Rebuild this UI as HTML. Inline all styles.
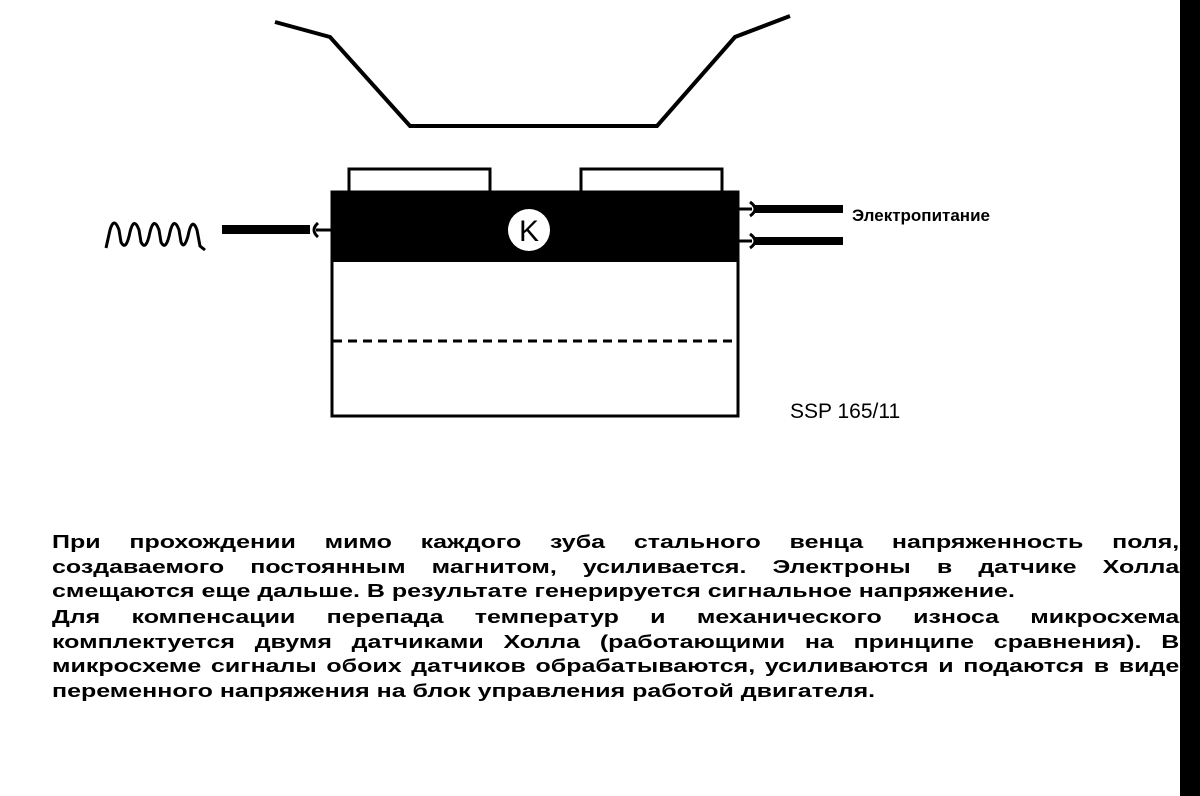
<!DOCTYPE html>
<html><head><meta charset="utf-8"><style>
html,body{margin:0;padding:0;background:#fff;}
body{width:1200px;height:796px;position:relative;overflow:hidden;font-family:"Liberation Sans",sans-serif;}
.p{position:absolute;left:52px;width:835px;transform:scaleX(1.35);transform-origin:0 0;font-weight:bold;font-size:18.5px;line-height:24.5px;color:#000;}
.l{display:block;text-align:justify;text-align-last:justify;white-space:nowrap;}
.l.last{text-align-last:left;}
</style></head><body>
<svg width="1200" height="796" style="position:absolute;left:0;top:0">
<polyline points="275,22 330,37 410,126 657,126 735,37 790,16" fill="none" stroke="#000" stroke-width="4"/>
<rect x="349" y="169" width="141" height="24" fill="#fff" stroke="#000" stroke-width="3"/>
<rect x="581" y="169" width="141" height="24" fill="#fff" stroke="#000" stroke-width="3"/>
<rect x="332" y="192" width="406" height="224" fill="#fff" stroke="#000" stroke-width="3"/>
<rect x="331" y="192" width="408" height="70" fill="#000"/>
<line x1="333" y1="341" x2="737" y2="341" stroke="#000" stroke-width="3" stroke-dasharray="9,6"/>
<circle cx="529" cy="230" r="21" fill="#fff"/>
<text x="529" y="241" font-family="Liberation Sans" font-size="30" text-anchor="middle" fill="#000">K</text>
<path d="M106,248 L110,230 Q114,216 119,230 L121,242 Q126,252 130,232 Q134,216 139,230 L141,242 Q146,252 150,232 Q154,216 159,230 L161,242 Q166,252 170,232 Q174,216 179,230 L181,242 Q184,250 188,236 Q192,216 197,230 L200,246 L205,250" fill="none" stroke="#000" stroke-width="3"/>
<rect x="222" y="225" width="88" height="9" fill="#000"/>
<path d="M318,223 Q310,230 318,237" fill="none" stroke="#000" stroke-width="3"/>
<line x1="316" y1="230" x2="332" y2="230" stroke="#000" stroke-width="3"/>
<line x1="738" y1="209" x2="752" y2="209" stroke="#000" stroke-width="3"/>
<path d="M750,202 Q760,209 750,216" fill="none" stroke="#000" stroke-width="3"/>
<rect x="755" y="205" width="88" height="8" fill="#000"/>
<line x1="738" y1="241" x2="752" y2="241" stroke="#000" stroke-width="3"/>
<path d="M750,234 Q760,241 750,248" fill="none" stroke="#000" stroke-width="3"/>
<rect x="755" y="237" width="88" height="8" fill="#000"/>
<text x="852" y="221" font-family="Liberation Sans" font-weight="bold" font-size="17" fill="#000">Электропитание</text>
<text x="790" y="418" font-family="Liberation Sans" font-size="21" fill="#000">SSP 165/11</text>
<rect x="1180" y="0" width="20" height="796" fill="#000"/>
</svg>
<div class="p" style="top:530px">
<span class="l">При прохождении мимо каждого зуба стального венца напряженность поля,</span>
<span class="l">создаваемого постоянным магнитом, усиливается. Электроны в датчике Холла</span>
<span class="l last">смещаются еще дальше. В результате генерируется сигнальное напряжение.</span>
</div>
<div class="p" style="top:605px">
<span class="l">Для компенсации перепада температур и механического износа микросхема</span>
<span class="l">комплектуется двумя датчиками Холла (работающими на принципе сравнения). В</span>
<span class="l">микросхеме сигналы обоих датчиков обрабатываются, усиливаются и подаются в виде</span>
<span class="l last">переменного напряжения на блок управления работой двигателя.</span>
</div>
</body></html>
